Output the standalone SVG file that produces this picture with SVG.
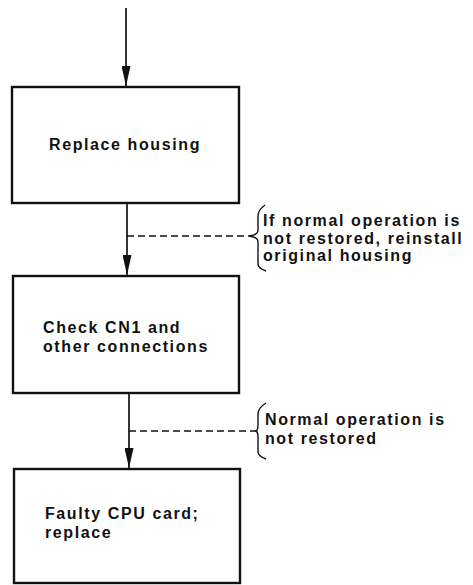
<svg xmlns="http://www.w3.org/2000/svg" width="473" height="585" viewBox="0 0 473 585">
<style>
.box{fill:#fff;stroke:#111;stroke-width:2.4}
.ln{stroke:#111;stroke-width:1.7;fill:none}
.dash{stroke:#111;stroke-width:1.6;fill:none;stroke-dasharray:7 4}
.br{stroke:#111;stroke-width:1.4;fill:none}
text{font-family:"Liberation Sans",Arial,sans-serif;font-weight:bold;font-size:16px;letter-spacing:1.6px;fill:#111}
</style>
<defs>
<marker id="ah" markerWidth="20" markerHeight="9" refX="20" refY="4.5" orient="auto" markerUnits="userSpaceOnUse" viewBox="0 0 20 9">
<path d="M0,0 L20,4.5 L0,9 Z" fill="#111"/>
</marker>
</defs>
<rect width="473" height="585" fill="#fff"/>
<g id="connectors">
<line class="ln" x1="126" y1="8" x2="126" y2="86" marker-end="url(#ah)"/>
<line class="ln" x1="127" y1="204" x2="127" y2="275" marker-end="url(#ah)"/>
<line class="ln" x1="129" y1="394" x2="129" y2="468" marker-end="url(#ah)"/>
<line class="dash" x1="127" y1="236" x2="249" y2="236"/>
<line class="dash" x1="129" y1="431" x2="256" y2="431"/>
</g>
<g id="node1">
<rect class="box" x="12" y="87" width="227" height="116"/>
<text x="125" y="150" text-anchor="middle">Replace housing</text>
</g>
<g id="node2">
<rect class="box" x="13" y="276" width="226" height="117"/>
<text x="43" y="333">Check CN1 and</text>
<text x="43" y="352">other connections</text>
</g>
<g id="node3">
<rect class="box" x="14" y="469" width="226" height="114"/>
<text x="45" y="519">Faulty CPU card;</text>
<text x="45" y="538">replace</text>
</g>
<g id="note1">
<path class="br" d="M265,205 Q258,210 258,216 L258,230 Q258,235 249,236 Q258,237 258,242 L258,264 Q258,268 266,271"/>
<text x="263" y="226">If normal operation is</text>
<text x="263" y="244">not restored, reinstall</text>
<text x="263" y="261">original housing</text>
</g>
<g id="note2">
<path class="br" d="M266,403 Q258,408 258,414 L258,425 Q258,430 256,431 Q258,432 258,437 L258,452 Q258,456 266,459"/>
<text x="265" y="425">Normal operation is</text>
<text x="265" y="444">not restored</text>
</g>
</svg>
